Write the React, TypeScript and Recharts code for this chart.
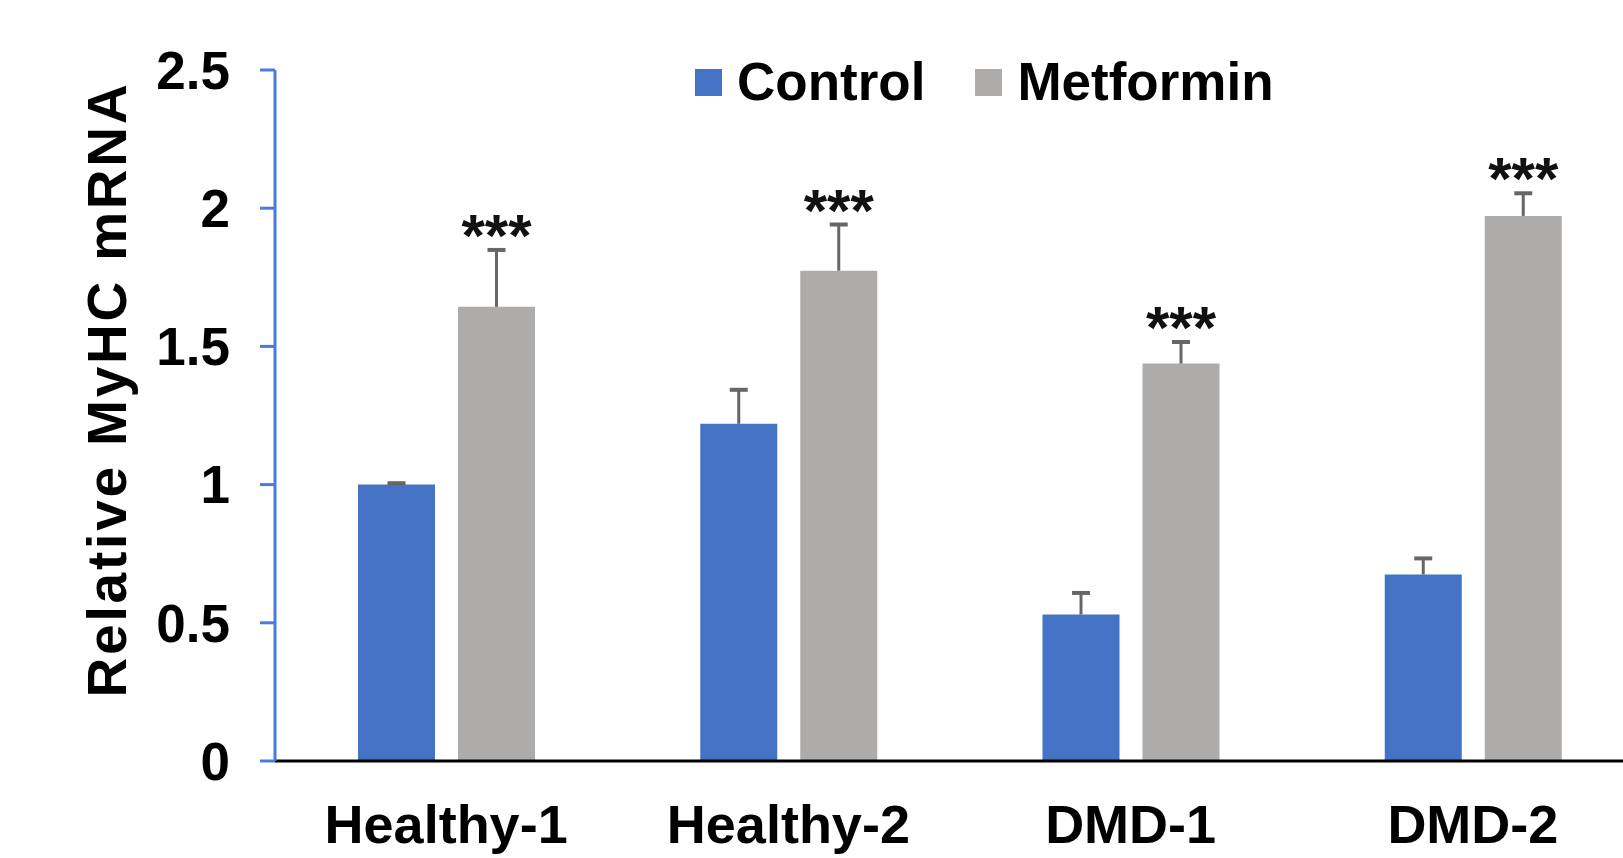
import { Bar, BarChart, LabelList, Legend, XAxis, YAxis } from "recharts"

const categories = ["Healthy-1", "Healthy-2", "DMD-1", "DMD-2"]
const control = [1.0, 1.22, 0.53, 0.675]
const controlErr = [0.005, 0.123, 0.078, 0.058]
const metformin = [1.643, 1.774, 1.438, 1.972]
const metforminErr = [0.206, 0.167, 0.078, 0.082]
const metforminSig = ["***", "***", "***", "***"]
const yTicks = [0, 0.5, 1, 1.5, 2, 2.5]

const FONT = '"Liberation Sans", Arial, Helvetica, sans-serif'
const BLUE = "#4472C4"
const GRAY = "#AEABAB"

const data = categories.map((name, i) => ({ name, control: control[i], metformin: metformin[i] }))

// error bar (upper half only) + significance stars, placed from the bar's own scale
function errorMark(errors: number[], sig?: string[]) {
  return (props: any) => {
    const vb = props.viewBox ?? {}
    const x = Number(props.x ?? vb.x)
    const y = Number(props.y ?? vb.y)
    const w = Number(props.width ?? vb.width)
    const h = Number(props.height ?? vb.height)
    const v = Number(props.value)
    const i = props.index
    if (!v || !h) return null
    const cx = x + w / 2
    const top = y - errors[i] * (h / v)
    return (
      <g>
        <line x1={cx} x2={cx} y1={y} y2={top} stroke="#666" strokeWidth={3} />
        <line x1={cx - 9} x2={cx + 9} y1={top} y2={top} stroke="#666" strokeWidth={4} />
        {sig && (
          <text x={cx} y={top + 6} textAnchor="middle" fontSize={60} fontWeight="bold" fontFamily={FONT} fill="#111">
            {sig[i]}
          </text>
        )}
      </g>
    )
  }
}

const XTick = ({ x, y, payload }: any) => (
  <text x={x} y={y + 82} textAnchor="middle" fontSize={54} fontWeight="bold" fontFamily={FONT} fill="#000">
    {payload.value}
  </text>
)

const renderLegend = ({ payload }: any) => (
  <div
    style={{
      display: "flex",
      alignItems: "center",
      lineHeight: "60px",
      fontFamily: FONT,
      fontWeight: "bold",
      fontSize: 53,
      color: "#000",
      whiteSpace: "nowrap",
    }}
  >
    {(payload || []).map((e: any) => (
      <span key={e.value} style={{ display: "flex", alignItems: "center", marginRight: 50 }}>
        <span style={{ width: 27, height: 27, background: e.color, marginRight: 15, display: "inline-block" }} />
        {e.value}
      </span>
    ))}
  </div>
)

export default function App() {
  return (
    <div style={{ position: "absolute", left: 0, top: 0, width: 1623, height: 858, overflow: "hidden", background: "#fff" }}>
      <BarChart
        width={1644}
        height={858}
        data={data}
        margin={{ top: 70, right: 0, bottom: 0, left: 0 }}
        barSize={77}
        barGap={23}
      >
        <XAxis
          dataKey="name"
          height={97}
          axisLine={{ stroke: "#000", strokeWidth: 3 }}
          tickLine={false}
          tickSize={0}
          tickMargin={0}
          tick={<XTick />}
          interval={0}
        />
        <YAxis
          width={275}
          domain={[0, 2.5]}
          ticks={yTicks}
          axisLine={{ stroke: "#4a7bd8", strokeWidth: 3 }}
          tickLine={{ stroke: "#4a7bd8", strokeWidth: 3 }}
          tickSize={15}
          tickMargin={30}
          tick={{ fontSize: 53, fontWeight: "bold", fill: "#000", fontFamily: FONT }}
          label={{
            content: (p: any) => {
              const vb = p.viewBox || { x: 0, y: 70, width: 275, height: 691 }
              const cy = vb.y + vb.height / 2 - 26
              return (
                <text
                  transform={`translate(${vb.x + 126} ${cy}) rotate(-90)`}
                  textAnchor="middle"
                  fontSize={55}
                  fontWeight="bold"
                  letterSpacing={2.8}
                  fontFamily={FONT}
                  fill="#000"
                >
                  Relative MyHC mRNA
                </text>
              )
            },
          }}
        />
        <Legend
          layout="horizontal"
          verticalAlign="middle"
          align="center"
          wrapperStyle={{ top: 52, left: 695, width: "auto", height: "auto" }}
          content={renderLegend}
        />
        <Bar dataKey="control" name="Control" fill={BLUE} isAnimationActive={false}>
          <LabelList dataKey="control" content={errorMark(controlErr)} />
        </Bar>
        <Bar dataKey="metformin" name="Metformin" fill={GRAY} isAnimationActive={false}>
          <LabelList dataKey="metformin" content={errorMark(metforminErr, metforminSig)} />
        </Bar>
      </BarChart>
    </div>
  )
}
